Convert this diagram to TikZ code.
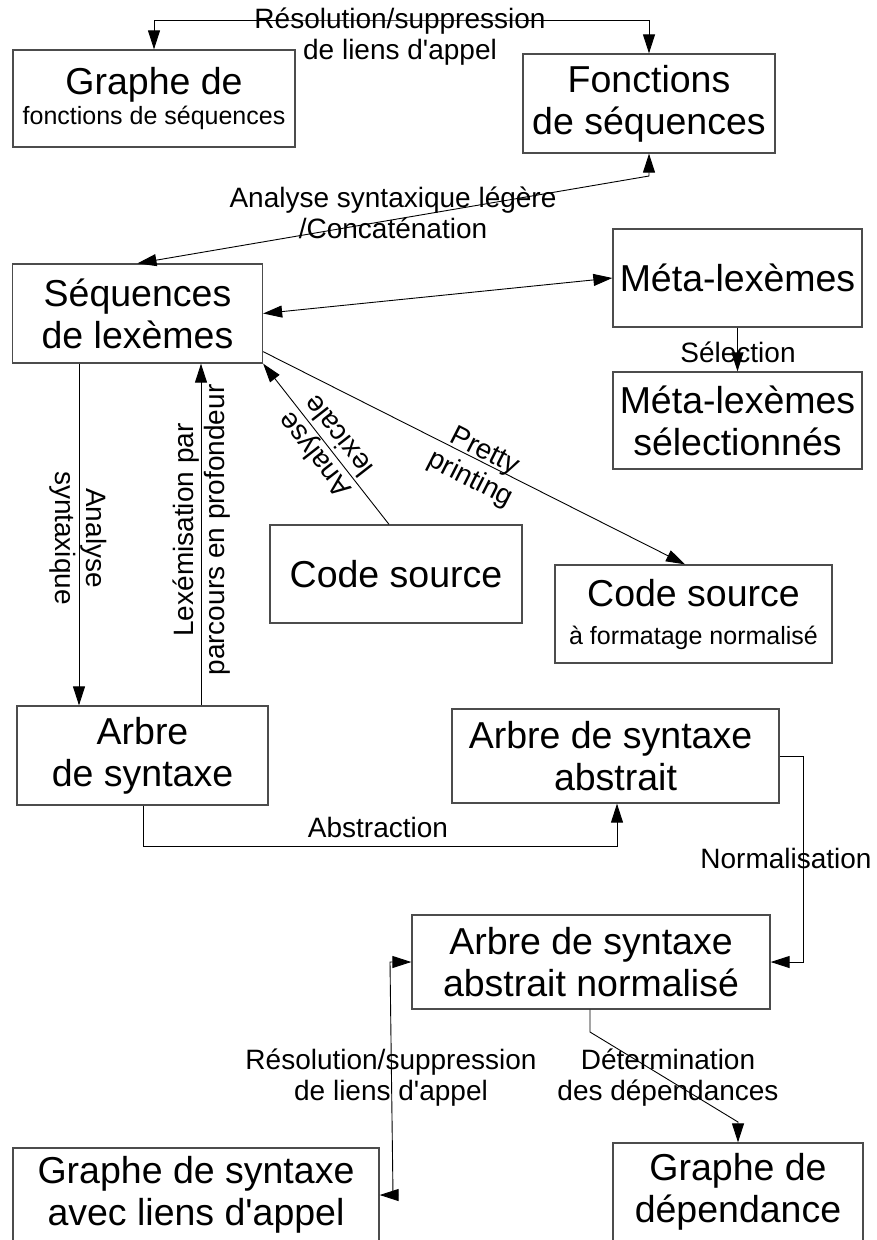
\documentclass[tikz,border=0pt]{standalone}
\usepackage{fontspec}
\setmainfont{Liberation Sans}
\usetikzlibrary{arrows.meta}
\newcommand\BoxFont{\fontsize{37.5}{42}\selectfont}
\newcommand\SmallFont{\fontsize{25}{29}\selectfont}
\newcommand\LabFont{\fontsize{28}{31}\selectfont}
\newcommand\apos{\textquotesingle}
\begin{document}
\begin{tikzpicture}[x=1pt,y=-1pt,
  box/.style={draw=black!70, line width=1.3pt, inner sep=0pt, align=center, font=\BoxFont},
  conn/.style={draw=black, line width=0.9pt},
  onearr/.style={-{Triangle[length=19pt,width=12pt]}},
  twoarr/.style={{Triangle[length=19pt,width=12pt]}-{Triangle[length=19pt,width=12pt]}},
  lab/.style={font=\LabFont, align=center, inner sep=0pt}]
\fill[white] (0,0) rectangle (876,1240);
\useasboundingbox (0,0) rectangle (876,1240);

% boxes
\node[box, minimum width=282pt, minimum height=97pt] (b1) at (154,98.5) {Graphe de\\[-12pt]{\SmallFont fonctions de séquences}};
\node[box, minimum width=252pt, minimum height=99pt] (b2) at (649,103.5) {Fonctions\\de séquences};
\node[box, minimum width=250pt, minimum height=99pt] (b3) at (137.5,313.5) {Séquences\\de lexèmes};
\node[box, minimum width=249pt, minimum height=98pt] (b4) at (737.5,278) {Méta-lexèmes};
\node[box, minimum width=249pt, minimum height=97pt] (b5) at (737.5,420.5) {Méta-lexèmes\\sélectionnés};
\node[box, minimum width=252pt, minimum height=98pt] (b6) at (396,574) {Code source};
\node[box, minimum width=277pt, minimum height=98pt] (b7) at (693.5,614) {Code source\\[-4pt]{\SmallFont à formatage normalisé}};
\node[box, minimum width=251pt, minimum height=99pt] (b8) at (142.5,755.5) {Arbre\\de syntaxe};
\node[box, minimum width=327pt, minimum height=94pt] (b9) at (615.5,756) {Arbre de syntaxe\hspace*{10pt}\\abstrait};
\node[box, minimum width=358pt, minimum height=94pt] (b10) at (591,962) {Arbre de syntaxe\\abstrait normalisé};
\node[box, minimum width=366pt, minimum height=94pt] (b11) at (196,1195) {Graphe de syntaxe\\avec liens d\apos appel};
\node[box, minimum width=250pt, minimum height=98pt] (b12) at (738,1192) {Graphe de\\dépendance};

% helper coordinates
\coordinate (t1) at (400,20);
\coordinate (t2) at (649,176);
\coordinate (xa) at (79,0);
\coordinate (xb) at (201,0);
\coordinate (xc) at (389,0);
\coordinate (xd) at (685,0);
\coordinate (xe) at (143,0);
\coordinate (xf) at (617,0);
\coordinate (ya) at (0,846);
\coordinate (xg) at (803,0);
\coordinate (r1) at (390,962);
\coordinate (r2) at (393,1195);
\coordinate (xh) at (590,0);
\coordinate (d1) at (590,1032);
\coordinate (d2) at (738,1122);

% connectors
\draw[conn,twoarr] (b1.north) |- (t1) -| (b2.north);
\node[lab] (l1) at (400,37) {Résolution/suppression\\de liens d\apos appel};

\draw[conn,twoarr] (b3.north) -- (t2) -- (b2.south);
\node[lab] (l2) at (393,213) {Analyse syntaxique légère\\/Concaténation};

\draw[conn,twoarr] (b3.east) -- (b4.west);

\draw[conn,onearr] (b4.south) -- (b5.north);
\node[lab] (l3) at (738,352) {Sélection};

\draw[conn,onearr] (b3.south -| xa) -- (b8.north -| xa);
\node[lab, rotate=-90] (l4) at (78,538) {Analyse\\syntaxique};

\draw[conn,onearr] (b8.north -| xb) -- (b3.south -| xb);
\node[lab, rotate=90] (l5) at (202,530) {Lexémisation par\\parcours en profondeur};

\draw[conn,onearr] (b6.north -| xc) -- (b3.south east);
\node[lab, rotate=128] (l6) at (326,446) {Analyse\\lexicale};

\draw[conn,onearr] ([yshift=12pt]b3.south east) -- (b7.north -| xd);
\node[lab, rotate=-27] (l7) at (477,466) {Pretty\\printing};

\draw[conn,onearr] (b8.south -| xe) -- (xe |- ya) -- (xf |- ya) -- (b9.south -| xf);
\node[lab] (l8) at (378,827) {Abstraction};

\draw[conn,onearr] (b9.east) -- (b9.east -| xg) -- (b10.east -| xg) -- (b10.east);
\node[lab] (l9) at (786,858) {Normalisation};

\draw[conn,twoarr] (b10.west) -- (r1) -- (r2) -- (b11.east);
\node[lab] (l10) at (391,1078) {Résolution/suppression\\de liens d\apos appel};

\draw[conn,onearr] (b10.south -| xh) -- (d1) -- (d2) -- (b12.north);
\node[lab] (l11) at (668,1078) {Détermination\\des dépendances};
\end{tikzpicture}
\end{document}
